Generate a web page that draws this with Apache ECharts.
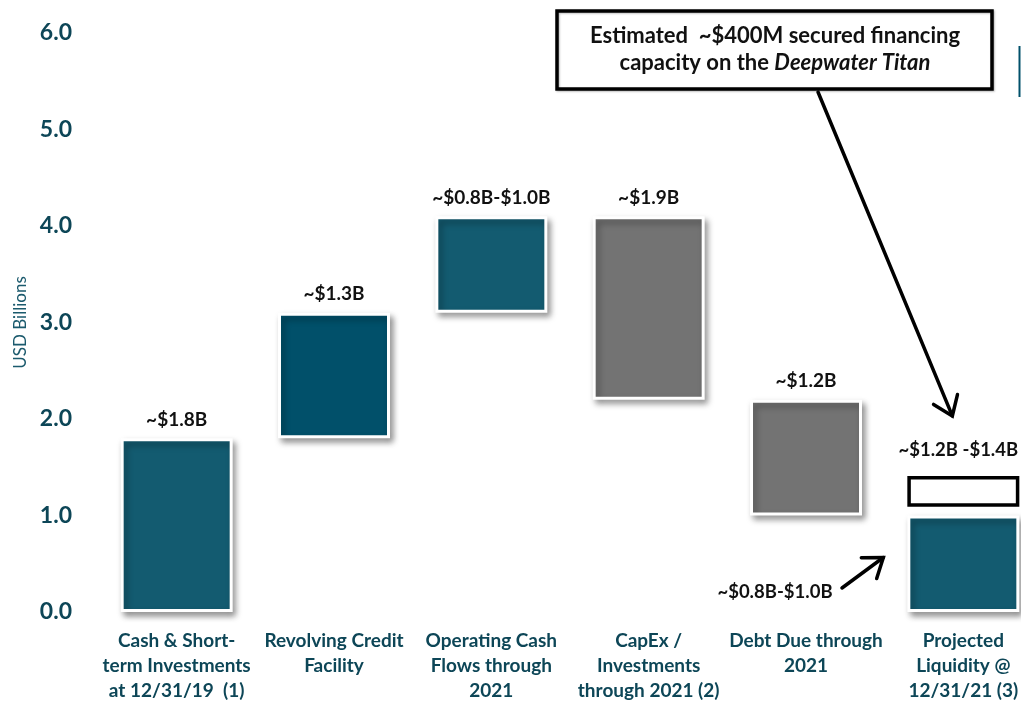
<!DOCTYPE html>
<html>
<head>
<meta charset="utf-8">
<script src="https://cdn.jsdelivr.net/npm/echarts@6/dist/echarts.min.js"></script>
<style>
  html, body { margin: 0; padding: 0; background: #ffffff; }
  #chart { width: 1021px; height: 702px; }
</style>
</head>
<body>
<div id="chart"></div>
<script>
// Liquidity walk, USD billions
const categories = [
  'Cash & Short-\nterm Investments\nat 12/31/19  (1)',
  'Revolving Credit\nFacility',
  'Operating Cash\nFlows through\n2021',
  'CapEx /\nInvestments\nthrough 2021 (2)',
  'Debt Due through\n2021',
  'Projected\nLiquidity @\n12/31/21 (3)'
];
// signed movement of each step; the last entry is the ending total
const changes = [1.8, 1.3, 1.0, -1.9, -1.2, 1.0];
const isTotal = [true, false, false, false, false, true];
const valueLabels = ['~$1.8B', '~$1.3B', '~$0.8B-$1.0B', '~$1.9B', '~$1.2B', ''];
// financing capacity range drawn above the projected liquidity bar
const rangeLow = 1.09;
const rangeHigh = 1.41;
const rangeLabel = '~$1.2B -$1.4B';
const projectedLabel = '~$0.8B-$1.0B';
const yTicks = [0, 1, 2, 3, 4, 5, 6];

const TEAL = '#135b70';
const DARK_TEAL = '#01506a';
const GREY = '#737373';
const AXIS_TEXT = '#0d4657';
const barColors = [TEAL, DARK_TEAL, TEAL, GREY, GREY, TEAL];

// floating bases for the waterfall
const bases = [];
const heights = [];
let running = 0;
changes.forEach((c, i) => {
  if (isTotal[i] && i > 0) {
    bases.push(0);
    heights.push(c);
    running = c;
  } else if (c >= 0) {
    bases.push(running);
    heights.push(c);
    running += c;
  } else {
    running += c;
    bases.push(running);
    heights.push(-c);
  }
});
const last = categories.length - 1;
const gapData = categories.map((_, i) => i === last ? rangeLow - (bases[i] + heights[i]) : '-');
const boxData = categories.map((_, i) => i === last ? rangeHigh - rangeLow : '-');

const chart = echarts.init(document.getElementById('chart'), null, { renderer: 'canvas' });
const FONT = 'Lato, "Open Sans", sans-serif';

chart.setOption({
  animation: false,
  backgroundColor: '#ffffff',
  textStyle: { fontFamily: FONT },
  grid: { left: 98, width: 944, top: 33, height: 579, containLabel: false, outerBoundsMode: 'none' },
  xAxis: {
    type: 'category',
    data: categories,
    axisLine: { show: false },
    axisTick: { show: false },
    axisLabel: {
      interval: 0,
      margin: 16,
      color: AXIS_TEXT,
      fontFamily: FONT,
      fontWeight: 'bold',
      fontSize: 19,
      lineHeight: 25,
      align: 'center'
    }
  },
  yAxis: {
    type: 'value',
    min: yTicks[0],
    max: yTicks[yTicks.length - 1],
    interval: 1,
    name: 'USD Billions',
    nameLocation: 'middle',
    nameGap: 69,
    nameTextStyle: { color: '#1b5a6d', fontFamily: FONT, fontSize: 17 },
    axisLine: { show: false },
    axisTick: { show: false },
    splitLine: { show: false },
    axisLabel: {
      margin: 26,
      color: AXIS_TEXT,
      fontFamily: FONT,
      fontWeight: 'bold',
      fontSize: 23,
      formatter: v => v.toFixed(1)
    }
  },
  series: [
    {
      name: 'base',
      type: 'bar',
      stack: 'walk',
      barWidth: 112,
      silent: true,
      itemStyle: { color: 'transparent' },
      data: bases
    },
    {
      name: 'amount',
      type: 'bar',
      stack: 'walk',
      barWidth: 112,
      data: heights.map((h, i) => ({
        value: h,
        itemStyle: { color: barColors[i] }
      })),
      itemStyle: {
        borderColor: '#ffffff',
        borderWidth: 3,
        shadowColor: 'rgba(0,0,0,0.38)',
        shadowBlur: 6,
        shadowOffsetX: 3,
        shadowOffsetY: 4
      },
      label: {
        show: true,
        position: 'top',
        distance: 9,
        color: '#111111',
        fontFamily: FONT,
        fontWeight: 'bold',
        fontSize: 19,
        formatter: p => valueLabels[p.dataIndex]
      }
    },
    {
      name: 'gap',
      type: 'bar',
      stack: 'walk',
      barWidth: 112,
      silent: true,
      itemStyle: { color: 'transparent' },
      data: gapData
    },
    {
      name: 'range',
      type: 'bar',
      stack: 'walk',
      barWidth: 109,
      itemStyle: { color: '#ffffff', borderColor: '#000000', borderWidth: 3.5 },
      label: {
        show: true,
        position: 'top',
        distance: 16,
        offset: [-5, 0],
        color: '#111111',
        fontFamily: FONT,
        fontWeight: 'bold',
        fontSize: 18.5,
        formatter: () => rangeLabel
      },
      data: boxData
    }
  ]
});

// annotations: callout, arrows and the side label for the projected bar
function arrow(x1, y1, x2, y2, head) {
  const a = Math.atan2(y2 - y1, x2 - x1);
  const spread = Math.PI / 5;
  const p1 = [x2 - head * Math.cos(a - spread), y2 - head * Math.sin(a - spread)];
  const p2 = [x2 - head * Math.cos(a + spread), y2 - head * Math.sin(a + spread)];
  const style = { stroke: '#000000', lineWidth: 3.5, lineCap: 'round', lineJoin: 'miter', fill: null };
  return [
    { type: 'line', shape: { x1, y1, x2, y2 }, style },
    { type: 'polyline', shape: { points: [p1, [x2, y2], p2] }, style }
  ];
}

const projTop = chart.convertToPixel({ seriesIndex: 1 }, [last, heights[last]]);
const boxTop = chart.convertToPixel({ seriesIndex: 3 }, [last, rangeHigh]);

chart.setOption({
  graphic: [
    {
      type: 'rect',
      shape: { x: 557, y: 11, width: 435, height: 78 },
      style: { fill: '#ffffff', stroke: '#000000', lineWidth: 3.5,
               shadowColor: 'rgba(0,0,0,0.25)', shadowBlur: 2, shadowOffsetX: 1, shadowOffsetY: 1 }
    },
    {
      type: 'text',
      x: 775, y: 36,
      style: {
        text: 'Estimated  ~$400M secured financing',
        font: 'bold 22px ' + FONT,
        fill: '#111111', align: 'center', verticalAlign: 'middle'
      }
    },
    {
      type: 'text',
      x: 775, y: 63,
      style: {
        rich: {
          n: { font: 'bold 22px ' + FONT, fill: '#111111' },
          i: { font: 'italic bold 22px ' + FONT, fill: '#111111' }
        },
        text: '{n|capacity on the }{i|Deepwater Titan}',
        align: 'center', verticalAlign: 'middle'
      }
    },
    ...arrow(818, 92, boxTop[0] - 11, boxTop[1] - 60, 22),
    ...arrow(842, 588, projTop[0] - 80, projTop[1] + 42, 22),
    {
      type: 'text',
      x: 775, y: 592,
      style: {
        text: projectedLabel,
        font: 'bold 18.5px ' + FONT,
        fill: '#111111', align: 'center', verticalAlign: 'middle'
      }
    },
    {
      type: 'line',
      shape: { x1: 1019.5, y1: 46, x2: 1019.5, y2: 97 },
      style: { stroke: DARK_TEAL, lineWidth: 2 }
    }
  ]
});
</script>
</body>
</html>
